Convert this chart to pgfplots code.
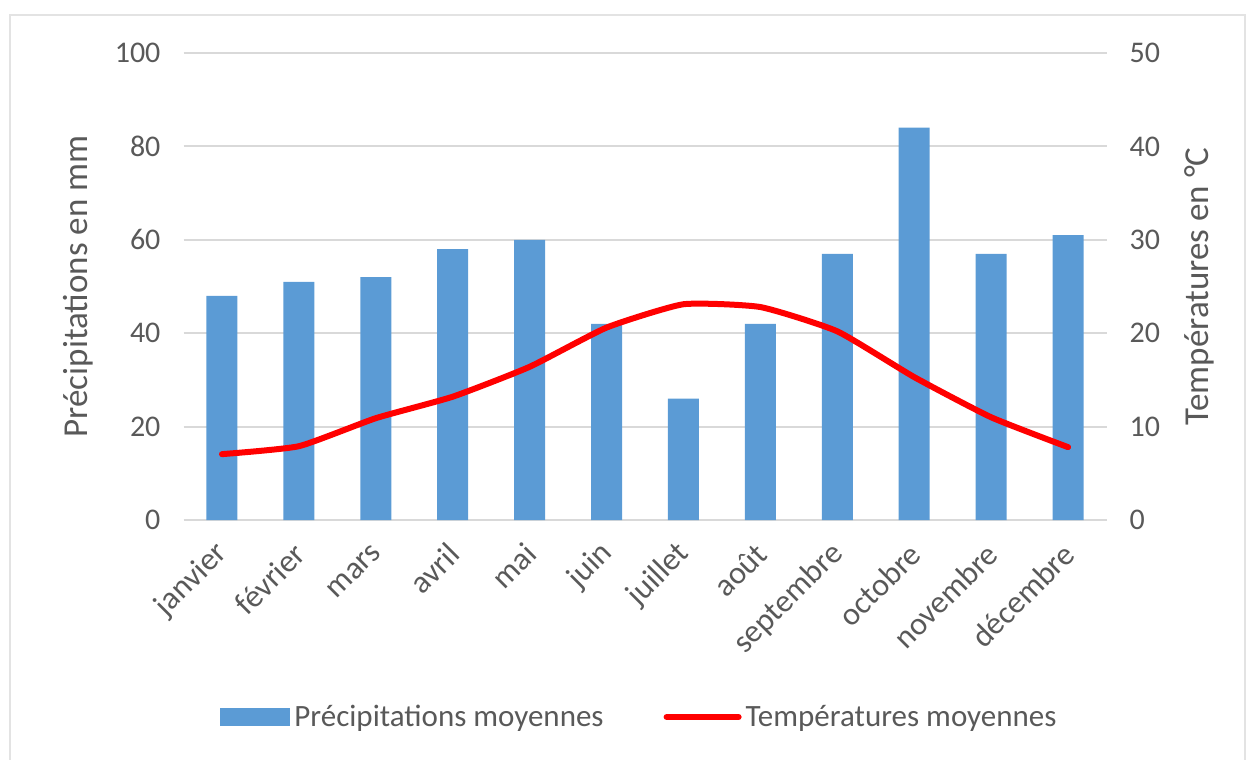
\documentclass[border=0pt]{standalone}
\usepackage{pgfplots}
\pgfplotsset{compat=1.18}
\usepackage{fontspec}
\setmainfont{Carlito}
\definecolor{barblue}{HTML}{5B9BD5}
\definecolor{txtgrey}{HTML}{595959}
\definecolor{gridgrey}{HTML}{D9D9D9}
\definecolor{borderg}{HTML}{E3E3E3}
\begin{document}
\begin{tikzpicture}[x=1pt,y=1pt]
\path[use as bounding box] (0,0) rectangle (626,380);
\draw[borderg, line width=1.2pt] (5,0) -- (5,372.5) -- (622.5,372.5) -- (622.5,0);
\pgfplotsset{
  common/.style={
    at={(91.75pt,120pt)}, anchor=south west,
    scale only axis, width=461.5pt, height=233.5pt,
    xmin=-0.5, xmax=11.5,
    axis line style={draw=none},
    major tick length=0pt,
    /pgf/number format/assume math mode=true,
    tick label style={font=\fontsize{15}{18}\selectfont, text=txtgrey},
    label style={font=\fontsize{17.5}{20}\selectfont, text=txtgrey},
  }
}
\begin{axis}[common,
  ybar, bar width=15.5pt,
  ymin=0, ymax=100, ytick={0,20,...,100},
  xtick={0,...,11},
  xticklabels={janvier,février,mars,avril,mai,juin,juillet,août,septembre,octobre,novembre,décembre},
  xticklabel style={font=\fontsize{16}{18}\selectfont, xshift=3pt, yshift=-12pt, rotate=45, anchor=east},
  ymajorgrids, grid style={gridgrey, line width=1pt},
  yticklabel style={xshift=-8pt},
  ylabel={Précipitations en mm},
  ylabel style={at={(axis description cs:-0.114,0.5)}, anchor=center},
  legend columns=2,
  legend style={at={(0.495,-0.422)}, anchor=center, draw=none, fill=none,
    font=\fontsize{15.5}{18}\selectfont, text=txtgrey,
    /tikz/every even column/.append style={column sep=28pt}},
]
\addplot[fill=barblue, draw=none,
  legend image code/.code={\fill[barblue] (0pt,-4.5pt) rectangle (35pt,4.5pt);}]
  coordinates {(0,48) (1,51) (2,52) (3,58) (4,60) (5,42) (6,26) (7,42) (8,57) (9,84) (10,57) (11,61)};
\addlegendentry{Précipitations moyennes}
\addlegendimage{legend image code/.code={\draw[red, line width=3pt, line cap=round] (0pt,0pt) -- (36pt,0pt);}}
\addlegendentry{Températures moyennes}
\end{axis}
\begin{axis}[common,
  ymin=0, ymax=50, ytick={0,10,...,50},
  axis y line*=right, hide x axis,
  yticklabel style={xshift=8pt},
  ylabel={Températures en °C},
  ylabel style={at={(axis description cs:1.101,0.5)}, anchor=center, rotate=0},
]
\addplot[red, line width=3pt, smooth, tension=0.3, line cap=round, line join=round]
  coordinates {(0,7.05) (1,7.9) (2,10.9) (3,13.2) (4,16.4) (5,20.6) (6,23.1) (7,22.8) (8,20.2) (9,15.3) (10,11.0) (11,7.8)};
\end{axis}
\end{tikzpicture}
\end{document}
